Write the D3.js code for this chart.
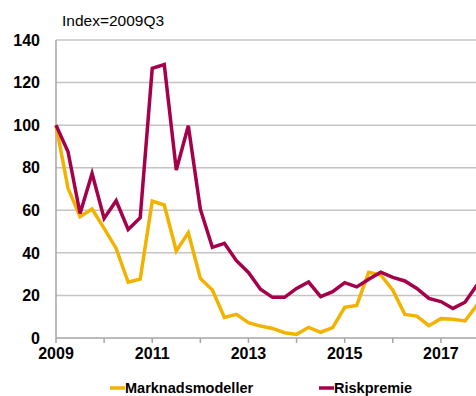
<!DOCTYPE html>
<html>
<head>
<meta charset="utf-8">
<script src="https://cdn.jsdelivr.net/npm/d3@7"></script>
<style>
  html, body { margin: 0; padding: 0; background: #fff; }
  svg { display: block; font-family: "Liberation Sans", Arial, sans-serif; }
</style>
</head>
<body>
<svg id="chart" width="476" height="396"></svg>
<script>
const quarters = [
  "2009Q1","2009Q2","2009Q3","2009Q4","2010Q1","2010Q2","2010Q3","2010Q4",
  "2011Q1","2011Q2","2011Q3","2011Q4","2012Q1","2012Q2","2012Q3","2012Q4",
  "2013Q1","2013Q2","2013Q3","2013Q4","2014Q1","2014Q2","2014Q3","2014Q4",
  "2015Q1","2015Q2","2015Q3","2015Q4","2016Q1","2016Q2","2016Q3","2016Q4",
  "2017Q1","2017Q2","2017Q3","2017Q4"
];
const marknadsmodeller = [
  100, 70.3, 57, 60.6, 51.5, 42.1, 26.2, 27.7,
  64.3, 62.5, 40.9, 49.5, 28, 22.5, 9.7, 11.1,
  7.2, 5.6, 4.5, 2.5, 1.7, 5, 2.7, 4.9,
  14.4, 15.3, 30.9, 29.6, 22.5, 11.1, 10.3, 5.8,
  9.1, 8.8, 8.0, 15.5
];
const riskpremie = [
  100, 87.5, 58.5, 77.3, 56.2, 64.5, 51, 56.5,
  126.7, 128.5, 78.9, 99.7, 60.5, 42.6, 44.5, 36.3,
  30.8, 22.9, 19.1, 19.1, 23.3, 26.3, 19.4, 21.8,
  26, 24, 27.6, 30.9, 28.5, 26.8, 23.3, 18.6,
  17.1, 13.9, 16.8, 24.9
];
const yTicks = [0, 20, 40, 60, 80, 100, 120, 140];
const yearTicks = ["2009Q1","2010Q1","2011Q1","2012Q1","2013Q1","2014Q1","2015Q1","2016Q1","2017Q1"];
const yearLabels = ["2009","","2011","","2013","","2015","","2017"];
const seriesNames = ["Marknadsmodeller", "Riskpremie"];
const seriesColors = ["#F2B200", "#A5004A"];
const unitLabel = "Index=2009Q3";

const svg = d3.select("#chart");
const mLeft = 56, mRight = 477, mTop = 40, mBottom = 338;

const x = d3.scalePoint().domain(quarters).range([mLeft, mRight]);
const y = d3.scaleLinear().domain([0, 140]).range([mBottom, mTop]);

// gridlines
svg.append("g").selectAll("line").data(yTicks.filter(d => d > 0)).join("line")
  .attr("x1", mLeft).attr("x2", 476)
  .attr("y1", d => y(d)).attr("y2", d => y(d))
  .attr("stroke", "#C4C4C4").attr("stroke-width", 1.5);

// y axis labels
svg.append("g").selectAll("text").data(yTicks).join("text")
  .attr("x", 40).attr("y", d => y(d)).attr("dy", "0.36em")
  .attr("text-anchor", "end").attr("font-size", 16).attr("font-weight", "bold")
  .attr("fill", "#000").text(d => d);

// axis lines
svg.append("line").attr("x1", mLeft).attr("x2", mLeft).attr("y1", mTop).attr("y2", mBottom)
  .attr("stroke", "#A6A6A6").attr("stroke-width", 1.5);
svg.append("line").attr("x1", mLeft).attr("x2", 476).attr("y1", mBottom).attr("y2", mBottom)
  .attr("stroke", "#A6A6A6").attr("stroke-width", 1.5);

// x ticks
svg.append("g").selectAll("line").data(yearTicks).join("line")
  .attr("x1", d => x(d)).attr("x2", d => x(d))
  .attr("y1", mBottom).attr("y2", mBottom + 5)
  .attr("stroke", "#A6A6A6").attr("stroke-width", 1.5);
svg.append("g").selectAll("text").data(yearTicks).join("text")
  .attr("x", d => x(d)).attr("y", 359)
  .attr("text-anchor", "middle").attr("font-size", 16).attr("font-weight", "bold")
  .attr("fill", "#000").text((d, i) => yearLabels[i]);

// unit label
svg.append("text").attr("x", 62).attr("y", 26).attr("font-size", 15.5)
  .attr("fill", "#000").text(unitLabel);

// lines
const line = d3.line().x((d, i) => x(quarters[i])).y(d => y(d));
[marknadsmodeller, riskpremie].forEach((s, k) => {
  svg.append("path").datum(s).attr("d", line)
    .attr("fill", "none").attr("stroke", seriesColors[k])
    .attr("stroke-width", 3.5).attr("stroke-linejoin", "miter").attr("stroke-miterlimit", 4);
});

// legend
const legendX = [110, 319];
seriesNames.forEach((n, k) => {
  svg.append("line").attr("x1", legendX[k]).attr("x2", legendX[k] + 15)
    .attr("y1", 388).attr("y2", 388).attr("stroke", seriesColors[k]).attr("stroke-width", 3.5);
  svg.append("text").attr("x", legendX[k] + 15).attr("y", 392.5)
    .attr("font-size", 14.5).attr("font-weight", "bold").attr("fill", "#000").text(n);
});
</script>
</body>
</html>
